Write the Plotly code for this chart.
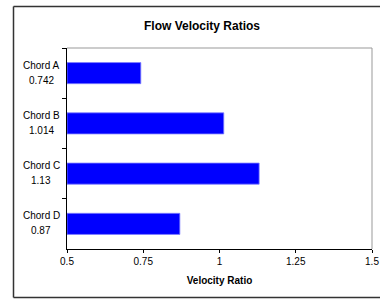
import plotly.graph_objects as go

chords = ["Chord A", "Chord B", "Chord C", "Chord D"]
ratios = [0.742, 1.014, 1.13, 0.87]
ratio_labels = ["0.742", "1.014", "1.13", "0.87"]
x_ticks = [0.5, 0.75, 1, 1.25, 1.5]
x_tick_text = ["0.5", "0.75", "1", "1.25", "1.5"]

fig = go.Figure(go.Bar(
    x=[r - 0.5 for r in ratios],
    base=0.5,
    y=chords,
    orientation="h",
    marker=dict(color="#0000FF", line=dict(color="#8080FF", width=0.8)),
    hoverinfo="skip",
))

W, H = 380, 299
L, R, T, B = 67, 8, 48, 50
pw = W - L - R
ph = H - T - B

def px_x(p):
    return (p - L) / pw

def px_y(p):
    return (H - B - p) / ph

annotations = []
for c, r in zip(chords, ratio_labels):
    annotations.append(dict(text=c, x=px_x(41), xref="paper", y=c, yref="y",
                            xanchor="center", yanchor="middle", showarrow=False,
                            yshift=8, font=dict(size=10)))
    annotations.append(dict(text=r, x=px_x(41), xref="paper", y=c, yref="y",
                            xanchor="center", yanchor="middle", showarrow=False,
                            yshift=-7, font=dict(size=10)))

bx0, bx1, by0, by1 = px_x(13.5), px_x(400), px_y(297.5), px_y(6.5)
border = dict(color="#333333", width=1.5)

fig.update_layout(
    template="none",
    width=W, height=H,
    margin=dict(l=L, r=R, t=T, b=B, pad=0, autoexpand=False),
    paper_bgcolor="white", plot_bgcolor="white",
    font=dict(family="Arial, Liberation Sans, sans-serif", size=10, color="black"),
    showlegend=False,
    bargap=0.58,
    title=dict(text="<b>Flow Velocity Ratios</b>", x=202 / W, xanchor="center",
               y=1 - 25.5 / H, yanchor="middle", font=dict(size=12)),
    xaxis=dict(range=[0.5, 1.5], tickvals=x_ticks, ticktext=x_tick_text,
               automargin=False,
               showgrid=False, zeroline=False, showline=True, linecolor="black",
               linewidth=1, ticks="outside", ticklen=3, tickcolor="black",
               title=dict(text="<b>Velocity Ratio</b>", standoff=10, font=dict(size=10))),
    yaxis=dict(autorange="reversed", showgrid=False, zeroline=False, showline=True,
               automargin=False,
               linecolor="black", linewidth=1, ticks="outside", ticklen=4,
               tickcolor="black", tickson="boundaries", showticklabels=False),
    annotations=annotations,
    shapes=[
        dict(type="line", xref="paper", yref="paper", x0=0, x1=1, y0=1, y1=1,
             line=dict(color="#999999", width=1), layer="above"),
        dict(type="line", xref="paper", yref="paper", x0=1, x1=1, y0=0, y1=1,
             line=dict(color="#999999", width=1), layer="above"),
        dict(type="line", xref="paper", yref="paper", x0=bx0, x1=bx1, y0=by1, y1=by1,
             line=border, layer="above"),
        dict(type="line", xref="paper", yref="paper", x0=bx0, x1=bx1, y0=by0, y1=by0,
             line=border, layer="above"),
        dict(type="line", xref="paper", yref="paper", x0=bx0, x1=bx0, y0=by0, y1=by1,
             line=border, layer="above"),
    ],
)

fig.write_html(
    "out.html",
    config={"displayModeBar": False, "responsive": False, "staticPlot": True},
    post_script=(
        "document.body.style.margin='0';"
        "document.body.style.overflow='hidden';"
        "document.documentElement.style.overflow='hidden';"
    ),
)
